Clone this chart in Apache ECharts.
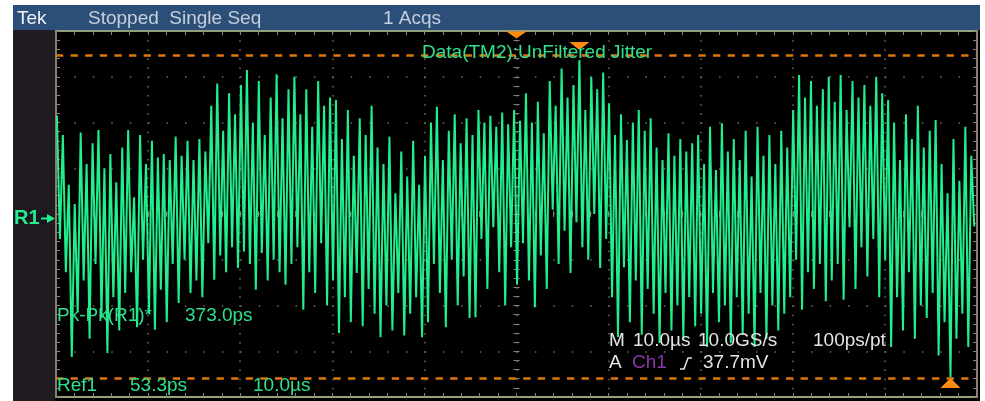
<!DOCTYPE html>
<html><head><meta charset="utf-8">
<script src="https://cdn.jsdelivr.net/npm/echarts@6/dist/echarts.min.js"></script>
<style>html,body{margin:0;padding:0;background:#fff;}#c{width:985px;height:401px;}</style>
</head><body><div id="c"></div>
<script>
const jitterA = [118,-30,95,-70, 35,-172,12,-118, 98,-80,60,-150,85,-60,101,-125,
  55,-167,72,-100,38,-140,80,-95, 101,-70,20,-136,95,-55,60,-120,88,
  -139,68,-91,72,-130,65, -60,93,-107,70,-55,88,-95,65,-80,90,-100,75,
  -35,130,-79,157,-50,100,-70,145,-40,120,-65,155,-45,
  173,-60,110,-91,160,-47,95,-80,140,-55,168,-70,115,-85,150,-60];
const jitterB = [165,-40,120,-115,150,-70,105,-95,160,-35,130,-110,140,-80,
  137,-143,90,-100,125,-130,70,-71,115,-135,95,-90,130,-120,80,
  -148,60,-110,93,-140,25,-95,75,-146,45,-120,88,-100,35,-148,70,
  -130,110,-60,129,-95,65,-136,100,-55,120,-110,85,-75,115,-125,95,
  -124,125,-30,110,-90,118,-16,105,-70,122,-110,108,-40,125,-85,112];
const jitterC = [-35,145,-80,110,-112,135,-50,97,-90,
  160,5,130,-60,175,-20,140,-71,155,-10,185,-40,125,-55,165,0,150,-65,170,-30,
  133,-100,95,-148,120,-64,89,-130,110,-80,125,-145,100,-90,115,-120,
  80,-155,65,-95,97,-140,70,-110,90,-150,75,-100,85,-135,95,-120,
  60,-160,105,-95,53,-130,109,-110,75,-155,90,-100,65,-145,100,-120];
const jitterD = [45,-160,105,-95,70,-150,95,-110,60,-140,100,-120,80,-100,
  125,-55,167,-115,140,-70,160,-90,130,-60,150,-105,165,-80,135,
  -60,167,-103,125,-16,160,-90,140,-40,155,-75,130,-30,165,-100,145,
  -55,137,-160,110,-100,65,-140,120,-70,90,-150,130,-110,80,-125,100,
  -95,113,-170,60,-130,25,-196,90,-150,40,-120,105,-160,70,-15];

const timeRange = [0, 100];     // µs : 10 div x 10.0 µs
const jitterRange = [-220, 220]; // ps : 8 div
const cursorLevels = [191, -197];
const triggerTime = 50;

const status = ['Tek', 'Stopped  Single Seq', '1 Acqs'];
const title = 'Data(TM2):UnFiltered Jitter';
const meas = ['Pk-Pk(R1)*', '373.0ps'];
const ref = ['Ref1', '53.3ps', '10.0µs'];
const horiz = ['M', '10.0µs', '10.0GS/s', '100ps/pt'];
const trig = ['A', 'Ch1', '37.7mV'];

const values = jitterA.concat(jitterB, jitterC, jitterD);
const N = values.length;
const data = values.map((v, i) => [0.1 + i * 99.6 / (N - 1), v]);

const GREEN = '#22ee8c', TXT = '#30e08c', ORANGE = '#ff8a10', DASH = '#de760e';
const FONT = "'Liberation Sans', Arial, sans-serif";
const txt = (t, x, y, fill, size, weight) => ({
  type: 'text', z: 100, silent: true,
  style: { text: t, x: x, y: y, fill: fill, fontSize: size || 19, fontWeight: weight || 'normal', fontFamily: FONT, verticalAlign: 'middle' }
});

const borderX = { show: true, onZero: false, lineStyle: { color: '#93a07c', width: 2 } };
const borderY = { show: true, onZero: false, lineStyle: { color: '#857f74', width: 2 } };
const tickStyle = { color: '#8a8478', width: 1 };
function xAx(pos, opts) {
  return Object.assign({
    type: 'value', min: timeRange[0], max: timeRange[1], interval: 10, position: pos,
    axisLabel: { show: false }, axisLine: borderX,
    axisTick: { show: true, inside: true, length: 4, lineStyle: tickStyle },
    minorTick: { show: true, splitNumber: 5, length: 4, lineStyle: tickStyle },
    splitLine: { show: false }
  }, opts || {});
}
function yAx(pos, opts) {
  return Object.assign({
    type: 'value', min: jitterRange[0], max: jitterRange[1], interval: 55, position: pos,
    axisLabel: { show: false }, axisLine: borderY,
    axisTick: { show: true, inside: true, length: 4, lineStyle: tickStyle },
    minorTick: { show: true, splitNumber: 5, length: 4, lineStyle: tickStyle },
    splitLine: { show: false }
  }, opts || {});
}
const noLine = { show: false, onZero: false };
const ladder = (inside) => ({
  axisTick: { show: true, inside: inside, length: 3, lineStyle: tickStyle },
  minorTick: { show: true, splitNumber: 5, length: 3, lineStyle: tickStyle }
});

const chart = echarts.init(document.getElementById('c'), null, { renderer: 'canvas' });
chart.setOption({
  backgroundColor: '#ffffff',
  animation: false,
  grid: { left: 56, right: 8, top: 31, bottom: 4, containLabel: false },
  xAxis: [
    xAx('bottom', { splitLine: { show: true, lineStyle: { color: '#716b61', width: 1.5, type: [1.5, 7.65] } } }),
    xAx('top'),
    xAx('bottom', Object.assign({ offset: -183, axisLine: noLine }, ladder(true))),
    xAx('bottom', Object.assign({ offset: -183, axisLine: noLine }, ladder(false)))
  ],
  yAxis: [
    yAx('left', { splitLine: { show: true, lineStyle: { color: '#716b61', width: 1.5, type: [1.5, 16.92] } } }),
    yAx('right'),
    yAx('left', Object.assign({ offset: -460.5, axisLine: noLine }, ladder(true))),
    yAx('left', Object.assign({ offset: -460.5, axisLine: noLine }, ladder(false)))
  ],
  series: [{
    type: 'line', data: data, xAxisIndex: 0, yAxisIndex: 0,
    showSymbol: false, symbol: 'none', silent: true,
    lineStyle: { color: GREEN, width: 2 },
    z: 5,
    markLine: {
      silent: true, symbol: 'none', label: { show: false },
      lineStyle: { color: DASH, width: 2.5, type: [7.3, 7.3] },
      data: cursorLevels.map(v => ({ yAxis: v }))
    },
    markPoint: {
      silent: true, label: { show: false },
      itemStyle: { color: ORANGE },
      data: [
        { type: 'max', symbol: 'triangle', symbolRotate: 180, symbolSize: [20, 8], symbolOffset: [0, -14] },
        { type: 'min', symbol: 'triangle', symbolSize: [20, 10], symbolOffset: [0, 6] },
        { coord: [triggerTime, jitterRange[1]], symbol: 'triangle', symbolRotate: 180, symbolSize: [20, 7], symbolOffset: [0, 4] }
      ]
    }
  }],
  graphic: [
    { type: 'rect', z: -100, silent: true, shape: { x: 13, y: 5, width: 967, height: 396 }, style: { fill: '#000000' } },
    { type: 'rect', z: -99, silent: true, shape: { x: 13, y: 30, width: 42, height: 371 }, style: { fill: '#201b21' } },
    { type: 'rect', z: 50, silent: true, shape: { x: 13, y: 5, width: 967, height: 25 }, style: { fill: '#2b4f78' } },
    txt(status[0], 17, 19, '#f0f0f4'),
    txt(status[1], 88, 19, '#c6cfda'),
    txt(status[2], 383, 19, '#c6cfda'),
    txt(title, 422, 53, TXT),
    txt(meas[0], 57, 316, TXT),
    txt(meas[1], 185, 316, TXT),
    txt(ref[0], 57, 386, TXT),
    txt(ref[1], 130, 386, TXT),
    txt(ref[2], 253, 386, TXT),
    txt(horiz[0], 609, 341, '#e4e4e4'),
    txt(horiz[1], 633, 341, '#e4e4e4'),
    txt(horiz[2], 698, 341, '#e4e4e4'),
    txt(horiz[3], 813, 341, '#e4e4e4'),
    txt(trig[0], 609, 363, '#e4e4e4'),
    txt(trig[1], 632, 363, '#8a35a8'),
    txt(trig[2], 703, 363, '#e4e4e4'),
    { type: 'polyline', z: 100, silent: true, shape: { points: [[680, 369], [684, 369], [688, 358], [692, 358]] },
      style: { stroke: '#e4e4e4', lineWidth: 1.5, fill: null } },
    { type: 'rect', z: 99, silent: true, shape: { x: 14, y: 211, width: 34, height: 14 }, style: { fill: '#1b1620' } },
    txt('R1', 14, 218.5, GREEN, 20, 'bold'),
    { type: 'polygon', z: 100, silent: true, shape: { points: [[47, 214], [55, 218.5], [47, 223]] }, style: { fill: GREEN } },
    { type: 'rect', z: 100, silent: true, shape: { x: 41, y: 217.5, width: 7, height: 2 }, style: { fill: GREEN } }
  ]
});
</script></body></html>
